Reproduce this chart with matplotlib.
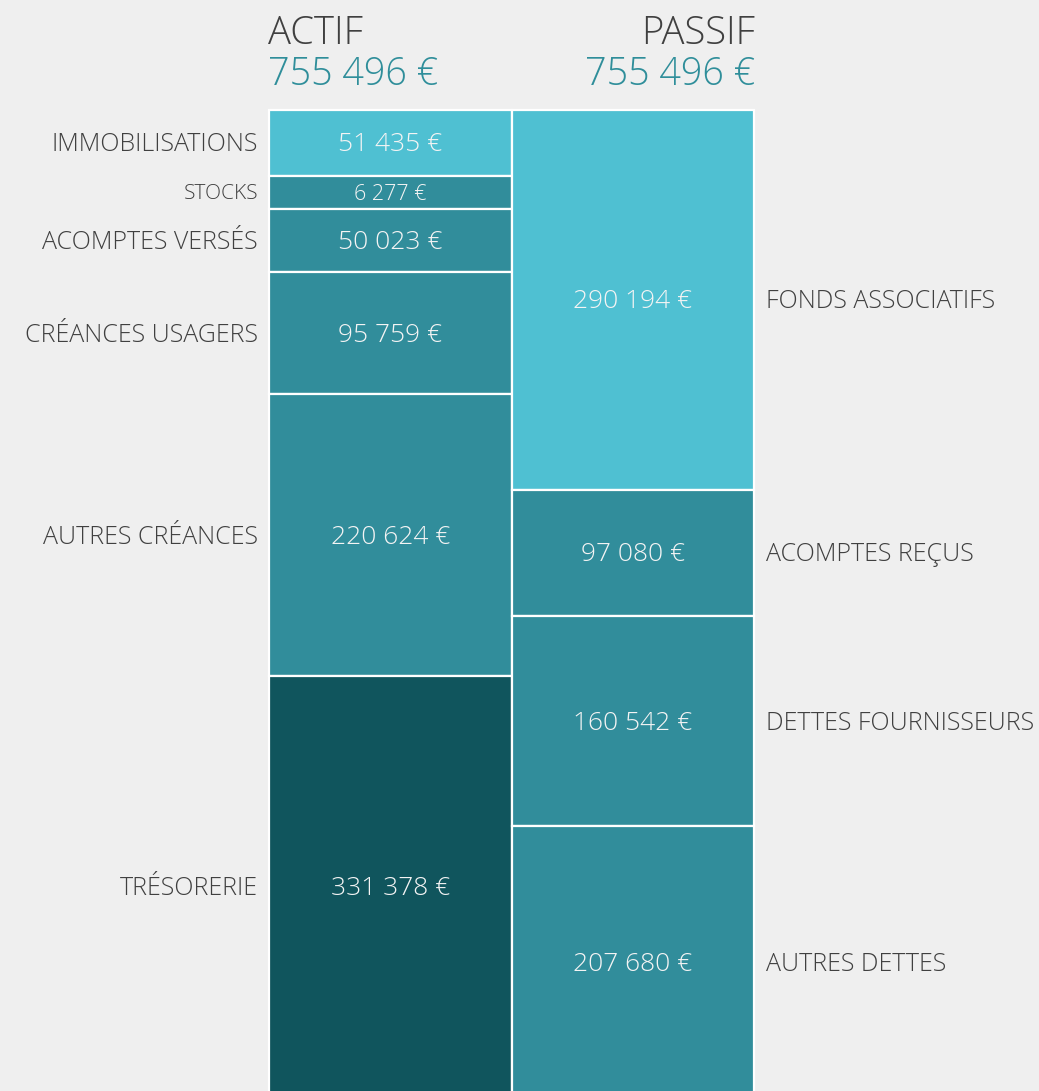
import matplotlib
matplotlib.use("Agg")
import matplotlib.pyplot as plt

# Balance sheet data
actif_labels = ["IMMOBILISATIONS", "STOCKS", "ACOMPTES VERSÉS", "CRÉANCES USAGERS",
                "AUTRES CRÉANCES", "TRÉSORERIE"]
actif_values = [51435, 6277, 50023, 95759, 220624, 331378]
passif_labels = ["FONDS ASSOCIATIFS", "ACOMPTES REÇUS", "DETTES FOURNISSEURS", "AUTRES DETTES"]
passif_values = [290194, 97080, 160542, 207680]
column_titles = ["ACTIF", "PASSIF"]

LIGHT = "#4FC0D2"
MID = "#318D9B"
DARK = "#10555D"
BG = "#EFEFEF"
TEXT = "#404040"
TOTAL = "#2F8E9A"
actif_colors = [LIGHT, MID, MID, MID, MID, DARK]
passif_colors = [LIGHT, MID, MID, MID]

plt.rcParams["font.family"] = ["Open Sans", "DejaVu Sans"]
plt.rcParams["font.weight"] = "light"

# Very small items get a minimum display height so their label fits;
# the remaining items share the rest of the column in proportion.
MIN_SHARE = 0.0335


def display_heights(values):
    total = sum(values)
    floor = MIN_SHARE * total
    small = [v < floor for v in values]
    rest = total - floor * sum(small)
    big_sum = sum(v for v, s in zip(values, small) if not s)
    return [floor if s else v * rest / big_sum for v, s in zip(values, small)]


def fmt(v):
    return f"{v:,}".replace(",", " ") + " €"


W, H = 1039, 1091
fig = plt.figure(figsize=(W / 100, H / 100), dpi=100, facecolor=BG)
# the columns run a little past the lower edge of the figure
x0, x1, y_top, y_bot = 269, 754, 110, 1098
ax = fig.add_axes([x0 / W, 1 - y_bot / H, (x1 - x0) / W, (y_bot - y_top) / H])
ax.set_facecolor(BG)
ax.axis("off")

total = sum(actif_values)
ax.set_xlim(-0.5, 1.5)
ax.set_ylim(total, 0)

DY = -2  # nudge text slightly down so capitals sit optically centred


def draw_column(x, values, labels, colors, side):
    start = 0
    for v, h, lab, c in zip(values, display_heights(values), labels, colors):
        ax.bar(x, h, bottom=start, width=1.0, color=c, edgecolor="white",
               linewidth=1.6, zorder=2, clip_on=False)
        mid = start + h / 2
        small = v < MIN_SHARE * sum(values)
        ax.annotate(fmt(v), xy=(x, mid), xytext=(0, DY), textcoords="offset pixels",
                    ha="center", va="center", color="#F4F4F4",
                    fontsize=15.5 if small else 19, zorder=3)
        if side == "left":
            ax.annotate(lab, xy=(x - 0.5, mid), xytext=(-11, DY),
                        textcoords="offset pixels", ha="right", va="center",
                        color=TEXT, fontsize=15 if small else 18)
        else:
            ax.annotate(lab, xy=(x + 0.5, mid), xytext=(12, DY),
                        textcoords="offset pixels", ha="left", va="center",
                        color=TEXT, fontsize=18)
        start += h


draw_column(0, actif_values, actif_labels, actif_colors, "left")
draw_column(1, passif_values, passif_labels, passif_colors, "right")

# Column headers with totals
fig.text(268 / W, 1 - 44 / H, column_titles[0], ha="left", va="baseline",
         fontsize=27.5, color=TEXT)
fig.text(268 / W, 1 - 85 / H, fmt(sum(actif_values)), ha="left", va="baseline",
         fontsize=27.2, color=TOTAL)
fig.text(755 / W, 1 - 44 / H, column_titles[1], ha="right", va="baseline",
         fontsize=27.5, color=TEXT)
fig.text(755 / W, 1 - 85 / H, fmt(sum(passif_values)), ha="right", va="baseline",
         fontsize=27.2, color=TOTAL)

fig.savefig("out.png", dpi=100, facecolor=BG)
